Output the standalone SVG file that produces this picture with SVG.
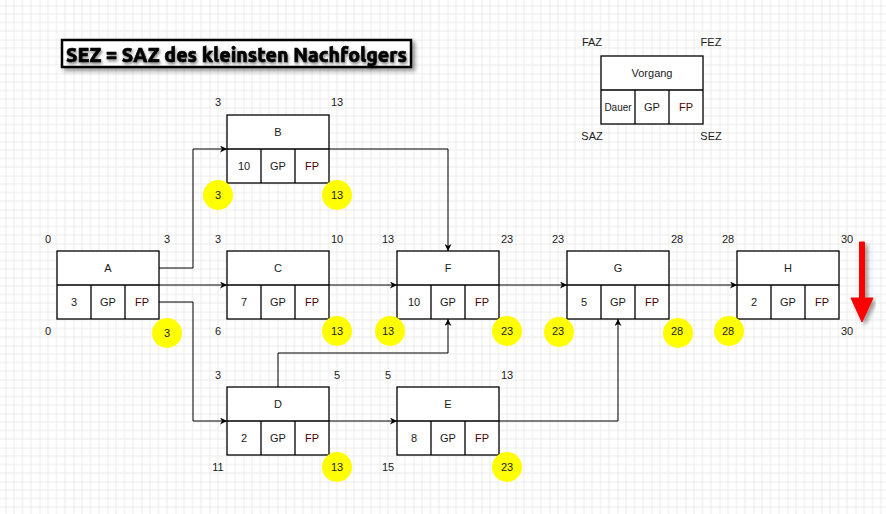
<svg xmlns="http://www.w3.org/2000/svg" width="886" height="514" viewBox="0 0 886 514">
<defs>
<pattern id="grid" patternUnits="userSpaceOnUse" x="5.5" y="5.5" width="34" height="34">
<path d="M8.5 0V34M17 0V34M25.5 0V34M0 8.5H34M0 17H34M0 25.5H34" stroke="#ebebeb" stroke-width="1" fill="none"/>
<path d="M0 0V34M0 0H34" stroke="#dcdcdc" stroke-width="1" fill="none"/>
</pattern>
<marker id="ar" viewBox="0 0 10 10" refX="10" refY="5" markerWidth="7" markerHeight="7" orient="auto" markerUnits="userSpaceOnUse">
<path d="M0 0L10 5L0 10L3 5Z" fill="#000"/>
</marker>
<filter id="sh" x="-10%" y="-30%" width="120%" height="160%">
<feGaussianBlur in="SourceAlpha" stdDeviation="2"/>
<feOffset dx="3" dy="3" result="b"/>
<feComponentTransfer><feFuncA type="linear" slope="0.4"/></feComponentTransfer>
<feMerge><feMergeNode/><feMergeNode in="SourceGraphic"/></feMerge>
</filter>
<filter id="tsh" x="-10%" y="-30%" width="120%" height="160%">
<feGaussianBlur in="SourceAlpha" stdDeviation="1.5"/>
<feOffset dx="1" dy="2"/>
<feComponentTransfer><feFuncA type="linear" slope="0.5"/></feComponentTransfer>
<feMerge><feMergeNode/><feMergeNode in="SourceGraphic"/></feMerge>
</filter>
</defs>
<style>
text{font-family:"Liberation Sans",Arial,sans-serif;font-size:11px;fill:#1a1a1a;text-anchor:middle;dominant-baseline:central}
.box{fill:#fff;stroke:#000;stroke-width:1.3}
.ln{stroke:#000;stroke-width:1.3;fill:none}
.fp{fill:#4d0000}
.y{fill:#ffff00}
.c{stroke:#000;stroke-width:1;fill:none;marker-end:url(#ar)}
</style>
<rect width="886" height="514" fill="#fff"/>
<rect width="886" height="514" fill="url(#grid)"/>

<g id="title">
<rect x="62" y="40" width="349" height="27" fill="#fff" stroke="#000" stroke-width="2.5" filter="url(#sh)"/>
<text x="236.5" y="54" style="font-family:'Ubuntu','Open Sans','DejaVu Sans',sans-serif;font-size:21px;font-weight:800;fill:#000;stroke:#000;stroke-width:0.6" textLength="341" lengthAdjust="spacingAndGlyphs" filter="url(#tsh)">SEZ = SAZ des kleinsten Nachfolgers</text>
</g>

<g id="legend">
<rect class="box" x="601" y="56" width="102" height="68"/>
<path class="ln" d="M601 90H703M635 90V124M669 90V124"/>
<text x="652" y="73">Vorgang</text>
<text x="618" y="107" style="font-size:10px">Dauer</text>
<text x="652" y="107">GP</text>
<text x="686" y="107" class="fp">FP</text>
<text x="592" y="42">FAZ</text>
<text x="711" y="42">FEZ</text>
<text x="592" y="136">SAZ</text>
<text x="711" y="136">SEZ</text>
</g>

<g id="connectors">
<path class="c" d="M159 268H193V149H227"/>
<path class="c" d="M159 285H227"/>
<path class="c" d="M159 302H193V421H227"/>
<path class="c" d="M329 149H448V251"/>
<path class="c" d="M329 285H397"/>
<path class="c" d="M278 387V353H448V319"/>
<path class="c" d="M329 421H397"/>
<path class="c" d="M499 421H618V319"/>
<path class="c" d="M499 285H567"/>
<path class="c" d="M669 285H737"/>
</g>

<g id="nodeA">
<rect class="box" x="57" y="251" width="102" height="68"/>
<path class="ln" d="M57 285H159M91 285V319M125 285V319"/>
<text x="108" y="268">A</text>
<text x="74" y="302">3</text><text x="108" y="302">GP</text><text x="142" y="302" class="fp">FP</text>
<text x="48" y="239">0</text><text x="167" y="239">3</text>
<text x="48" y="331">0</text>
<circle class="y" cx="167" cy="333" r="15"/><text x="167" y="333">3</text>
</g>

<g id="nodeB">
<rect class="box" x="227" y="115" width="102" height="68"/>
<path class="ln" d="M227 149H329M261 149V183M295 149V183"/>
<text x="278" y="132">B</text>
<text x="244" y="166">10</text><text x="278" y="166">GP</text><text x="312" y="166" class="fp">FP</text>
<text x="218" y="102">3</text><text x="337" y="102">13</text>
<circle class="y" cx="218" cy="195" r="15"/><text x="218" y="195">3</text>
<circle class="y" cx="337" cy="195" r="15"/><text x="337" y="195">13</text>
</g>

<g id="nodeC">
<rect class="box" x="227" y="251" width="102" height="68"/>
<path class="ln" d="M227 285H329M261 285V319M295 285V319"/>
<text x="278" y="268">C</text>
<text x="244" y="302">7</text><text x="278" y="302">GP</text><text x="312" y="302" class="fp">FP</text>
<text x="218" y="239">3</text><text x="337" y="239">10</text>
<text x="218" y="331">6</text>
<circle class="y" cx="337" cy="331" r="15"/><text x="337" y="331">13</text>
</g>

<g id="nodeD">
<rect class="box" x="227" y="387" width="102" height="68"/>
<path class="ln" d="M227 421H329M261 421V455M295 421V455"/>
<text x="278" y="404">D</text>
<text x="244" y="438">2</text><text x="278" y="438">GP</text><text x="312" y="438" class="fp">FP</text>
<text x="218" y="375">3</text><text x="337" y="375">5</text>
<text x="218" y="467">11</text>
<circle class="y" cx="337" cy="467" r="15"/><text x="337" y="467">13</text>
</g>

<g id="nodeE">
<rect class="box" x="397" y="387" width="102" height="68"/>
<path class="ln" d="M397 421H499M431 421V455M465 421V455"/>
<text x="448" y="404">E</text>
<text x="414" y="438">8</text><text x="448" y="438">GP</text><text x="482" y="438" class="fp">FP</text>
<text x="388" y="375">5</text><text x="507" y="375">13</text>
<text x="388" y="467">15</text>
<circle class="y" cx="507" cy="467" r="15"/><text x="507" y="467">23</text>
</g>

<g id="nodeF">
<rect class="box" x="397" y="251" width="102" height="68"/>
<path class="ln" d="M397 285H499M431 285V319M465 285V319"/>
<text x="448" y="268">F</text>
<text x="414" y="302">10</text><text x="448" y="302">GP</text><text x="482" y="302" class="fp">FP</text>
<text x="388" y="239">13</text><text x="507" y="239">23</text>
<circle class="y" cx="390" cy="331" r="15"/><text x="388" y="331">13</text>
<circle class="y" cx="507" cy="331" r="15"/><text x="507" y="331">23</text>
</g>

<g id="nodeG">
<rect class="box" x="567" y="251" width="102" height="68"/>
<path class="ln" d="M567 285H669M601 285V319M635 285V319"/>
<text x="618" y="268">G</text>
<text x="584" y="302">5</text><text x="618" y="302">GP</text><text x="652" y="302" class="fp">FP</text>
<text x="558" y="239">23</text><text x="677" y="239">28</text>
<circle class="y" cx="559" cy="332" r="15"/><text x="558" y="331">23</text>
<circle class="y" cx="678" cy="333" r="15"/><text x="677" y="331">28</text>
</g>

<g id="nodeH">
<rect class="box" x="737" y="251" width="102" height="68"/>
<path class="ln" d="M737 285H839M771 285V319M805 285V319"/>
<text x="788" y="268">H</text>
<text x="754" y="302">2</text><text x="788" y="302">GP</text><text x="822" y="302" class="fp">FP</text>
<text x="728" y="239">28</text><text x="847" y="239">30</text>
<circle class="y" cx="729" cy="331" r="15"/><text x="728" y="331">28</text>
<text x="847" y="331">30</text>
</g>

<g id="redArrow" filter="url(#sh)">
<path d="M859.5 242H864.5V298H873L862 322L851 298H859.5Z" fill="#ff0000" stroke="#ff0000" stroke-width="1" stroke-linejoin="round"/>
</g>
</svg>
